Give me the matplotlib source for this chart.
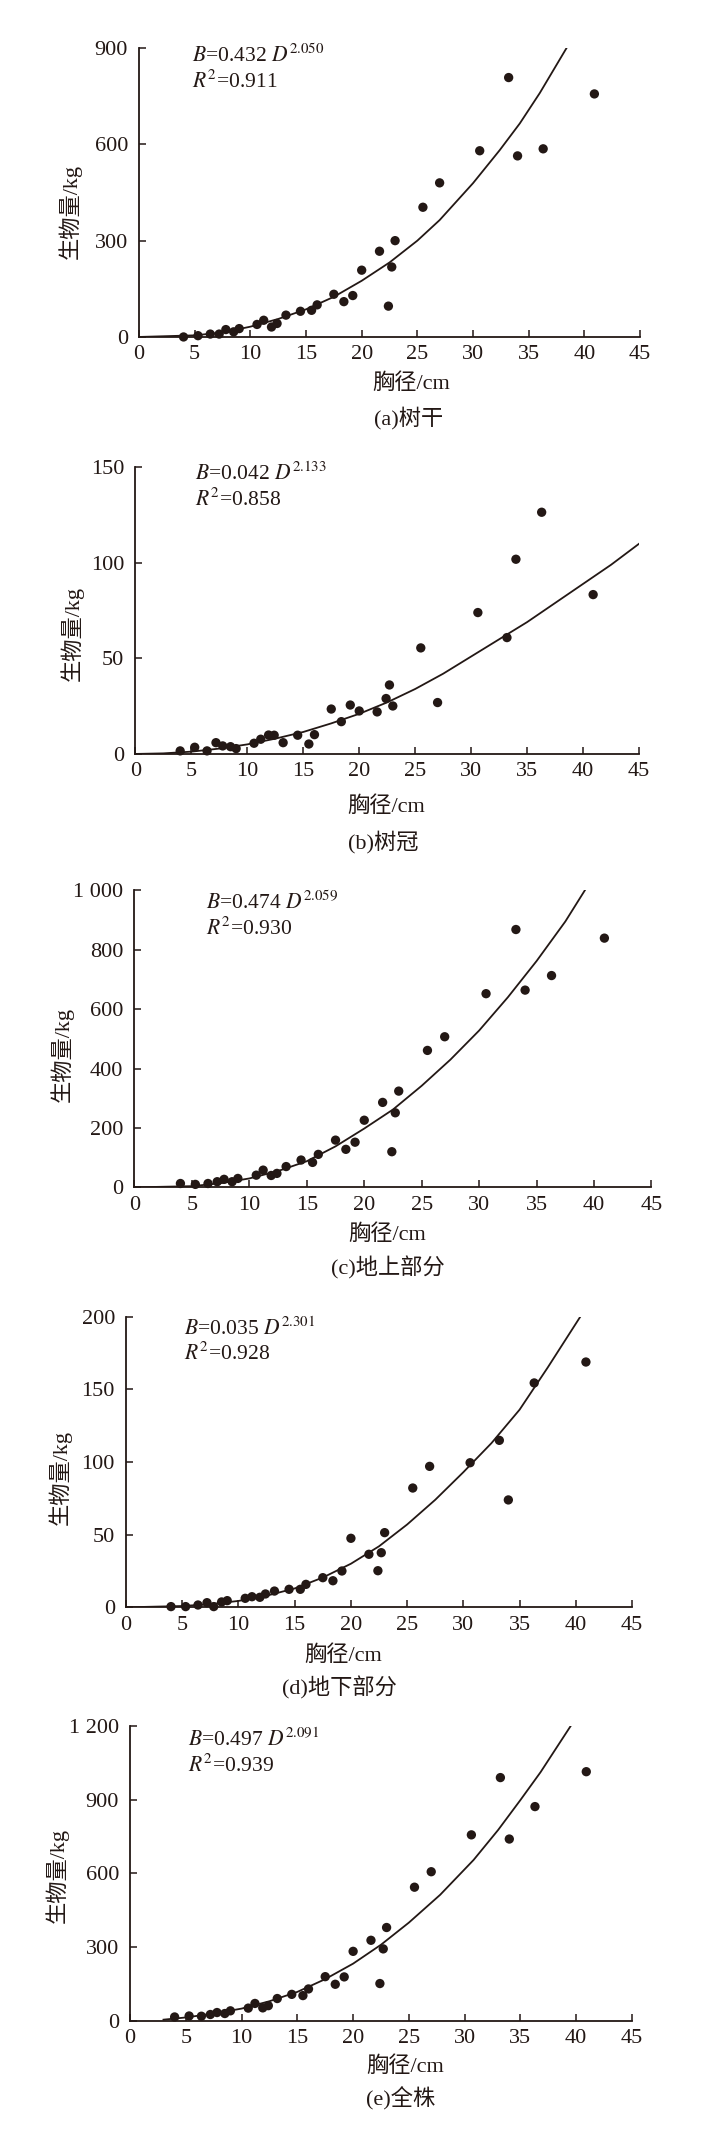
import numpy as np
import matplotlib.pyplot as plt

plt.rcParams['font.family'] = ['Liberation Serif', 'Noto Sans CJK SC']
plt.rcParams['mathtext.fontset'] = 'stix'

# diameter at breast height (cm), same trees in every panel
dbh = [4.0, 5.3, 6.4, 7.2, 7.8, 8.5, 9.0, 10.6, 11.2, 11.9, 12.4, 13.2, 14.5, 15.5, 16.0,
       17.5, 18.4, 19.2, 20.0, 21.6, 22.4, 22.7, 23.0, 25.5, 27.0, 30.6, 33.2, 34.0, 36.3, 40.9]

# biomass (kg) per component
stem = [0, 4, 9, 9, 23, 16, 26, 39, 52, 31, 42, 68, 80, 83, 100,
        133, 110, 129, 208, 267, 96, 218, 300, 404, 480, 580, 808, 564, 586, 757]
crown = [1.6, 3.5, 1.6, 5.9, 4.2, 3.8, 2.8, 5.6, 7.7, 9.9, 9.8, 5.9, 9.8, 5.2, 10.1,
         23.5, 16.9, 25.6, 22.5, 22.0, 29.0, 36.1, 25.1, 55.5, 26.9, 74.0, 60.9, 101.9, 126.5, 83.4]
above = [13, 10, 13, 19, 27, 19, 30, 41, 58, 40, 47, 70, 92, 84, 111,
         159, 128, 152, 226, 286, 120, 251, 324, 461, 507, 652, 868, 664, 713, 839]
below = [0.5, 0.5, 1.6, 3.2, 0.5, 3.7, 4.6, 6.2, 7.3, 6.9, 9.2, 11.2, 12.4, 12.4, 15.8,
         20.4, 18.3, 25.0, 47.5, 36.5, 25.2, 37.6, 51.4, 82.1, 97.0, 99.5, 114.9, 73.9, 154.4, 168.8]
whole = [16, 20, 19, 26, 34, 30, 41, 52, 71, 53, 62, 91, 108, 103, 130,
         180, 149, 179, 283, 328, 152, 293, 380, 544, 607, 757, 990, 740, 872, 1014]

# fitted curves
stem_cx = [0, 5, 7.5, 10, 12.5, 15, 17.5, 20, 22.5, 25, 27, 30, 32.4, 34.2, 36, 38.4]
stem_cy = [0, 5, 14, 32, 56, 86, 125, 175, 232, 300, 364, 479, 582, 665, 760, 900]
crown_cx = [0, 2.5, 5, 7.5, 10, 12.5, 15, 17.5, 20, 22.5, 25, 27.5, 30, 32.5, 35, 37.5, 40, 42.5, 45]
crown_cy = [0, 0.3, 1.2, 2.8, 5, 8, 11.5, 16, 21, 27, 34, 42, 51, 60, 69, 79, 89, 99, 110]
above_cx = [0, 5, 7.5, 10, 12.5, 15, 17.5, 20, 22.5, 25, 27.5, 30, 32.5, 35, 37.5, 39.2]
above_cy = [0, 4, 14, 30, 55, 88, 138, 198, 262, 342, 430, 528, 640, 762, 895, 1000]
below_cx = [0, 5, 7.5, 10, 12.5, 15, 17.5, 20, 22.5, 25, 27.5, 30, 32.5, 35, 37.5, 40.4]
below_cy = [0, 0.9, 2.2, 4.4, 8, 13, 20.5, 30, 42, 57, 74, 93, 113, 136, 165, 200]
whole_cx = [3, 5, 7.5, 10, 12.5, 15, 17.5, 20, 22.5, 25, 27.8, 30.8, 33, 35, 36.8, 39.5]
whole_cy = [5, 14, 30, 50, 80, 118, 170, 233, 310, 400, 513, 655, 777, 899, 1012, 1200]

formulas = [(r'$B$=0.432 $D^{\mathrm{2.050}}$', r'$R^{\mathrm{2}}$=0.911'),
            (r'$B$=0.042 $D^{\mathrm{2.133}}$', r'$R^{\mathrm{2}}$=0.858'),
            (r'$B$=0.474 $D^{\mathrm{2.059}}$', r'$R^{\mathrm{2}}$=0.930'),
            (r'$B$=0.035 $D^{\mathrm{2.301}}$', r'$R^{\mathrm{2}}$=0.928'),
            (r'$B$=0.497 $D^{\mathrm{2.091}}$', r'$R^{\mathrm{2}}$=0.939')]
captions = ['(a)树干', '(b)树冠', '(c)地上部分', '(d)地下部分', '(e)全株']
yticks = [[0, 300, 600, 900], [0, 50, 100, 150], [0, 200, 400, 600, 800, 1000],
          [0, 50, 100, 150, 200], [0, 300, 600, 900, 1200]]
ytick_labels = [['0', '300', '600', '900'], ['0', '50', '100', '150'],
                ['0', '200', '400', '600', '800', '1 000'],
                ['0', '50', '100', '150', '200'], ['0', '300', '600', '900', '1 200']]
xticks = [0, 5, 10, 15, 20, 25, 30, 35, 40, 45]

series = [stem, crown, above, below, whole]
curves = [(stem_cx, stem_cy), (crown_cx, crown_cy), (above_cx, above_cy),
          (below_cx, below_cy), (whole_cx, whole_cy)]

# layout (figure fractions) and text placement (axes fractions)
rects = [[0.1928, 0.8421, 0.6949, 0.1354],
         [0.1878, 0.6467, 0.6985, 0.1343],
         [0.1865, 0.4436, 0.7171, 0.1392],
         [0.1748, 0.2468, 0.7018, 0.1362],
         [0.1803, 0.0530, 0.6963, 0.1382]]
ftext_pos = [(0.106, 0.972, 0.882), (0.118, 0.979, 0.886), (0.138, 0.957, 0.871),
             (0.114, 0.960, 0.872), (0.116, 0.954, 0.867)]
ylab_pos = [(-0.138, 0.434), (-0.127, 0.42), (-0.14, 0.448), (-0.13, 0.447), (-0.145, 0.494)]
xlab_pos = [(0.543, -0.162), (0.497, -0.183), (0.489, -0.16), (0.43, -0.166), (0.548, -0.156)]
cap_pos = [(0.538, -0.28), (0.493, -0.306), (0.49, -0.272), (0.422, -0.278), (0.539, -0.263)]

ink = '#231815'
fs = 16

fig = plt.figure(figsize=(7.21, 21.34), dpi=100)
for i in range(5):
    ax = fig.add_axes(rects[i])
    ax.plot(curves[i][0], curves[i][1], color=ink, lw=1.3, zorder=2)
    ax.scatter(dbh, series[i], s=45, color=ink, edgecolors='none', zorder=3, clip_on=False)
    ax.set_xlim(0, 45)
    ax.set_ylim(0, yticks[i][-1])
    ax.set_xticks(xticks)
    ax.set_yticks(yticks[i])
    ax.set_yticklabels(ytick_labels[i])
    for s in ['top', 'right']:
        ax.spines[s].set_visible(False)
    for s in ['left', 'bottom']:
        ax.spines[s].set_linewidth(1.3)
        ax.spines[s].set_color(ink)
    ax.tick_params(direction='in', length=5, width=1.1, color=ink, labelsize=fs,
                   labelcolor=ink)
    ax.tick_params(axis='x', pad=6)
    ax.tick_params(axis='y', pad=8)
    fx, fy1, fy2 = ftext_pos[i]
    ax.text(fx, fy1, formulas[i][0], transform=ax.transAxes, fontsize=15.5, color=ink, va='center')
    ax.text(fx, fy2, formulas[i][1], transform=ax.transAxes, fontsize=15.5, color=ink, va='center')
    ax.text(ylab_pos[i][0], ylab_pos[i][1], '生物量/kg', transform=ax.transAxes, fontsize=fs,
            color=ink, rotation=90, ha='center', va='center')
    ax.text(xlab_pos[i][0], xlab_pos[i][1], '胸径/cm', transform=ax.transAxes, fontsize=fs,
            color=ink, ha='center', va='center')
    ax.text(cap_pos[i][0], cap_pos[i][1], captions[i], transform=ax.transAxes, fontsize=fs,
            color=ink, ha='center', va='center')

fig.savefig('out.png', dpi=100)
